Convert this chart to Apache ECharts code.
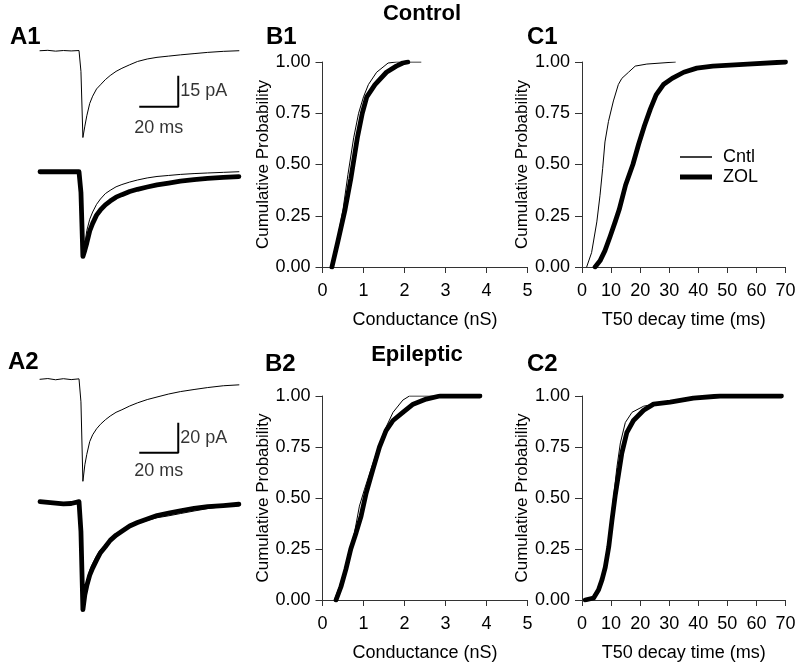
<!DOCTYPE html>
<html><head><meta charset="utf-8">
<script src="https://cdn.jsdelivr.net/npm/echarts@6/dist/echarts.min.js"></script>
<style>html,body{margin:0;padding:0;background:#fff}#c{width:800px;height:668px}</style>
</head><body><div id="c"></div>
<script>
// ---------- DATA ----------
// Example current traces (time in ms, current in pA)
const traceTime = [0, 4, 8, 12, 16, 20, 21, 22, 23, 24, 25.5, 27, 29, 31, 33.5, 36, 39, 42, 46, 50, 55, 60, 66, 72, 79, 86, 94, 102];
const a1TopCntl = [0, 0.2, -0.2, 0.1, -0.1, 0.1, -10, -42, -36.5, -31.5, -25.5, -22, -18.5, -16.5, -14, -12, -10, -8.5, -6.8, -5.2, -4.0, -3.2, -2.6, -2.0, -1.4, -0.8, -0.3, 0];
const a1BotZol  = [0, 0, 0, 0, 0, 0, -10, -41, -38, -34.5, -28.6, -25, -21, -18.5, -16, -14.2, -12.3, -11.1, -9.6, -8.5, -7.4, -6.4, -5.5, -4.6, -3.8, -3.2, -2.7, -2.4];
const a1BotCntl = [0, 0, 0, 0, 0, 0, -10, -41, -35, -28.5, -23, -19.5, -15.8, -13.2, -10.6, -9.0, -7.3, -6.2, -5.0, -4.0, -3.0, -2.3, -1.8, -1.3, -0.9, -0.6, -0.3, 0];
const a2TopCntl = [0, 0.5, -0.3, 0.4, -0.2, 0.3, -15, -68, -57, -50, -41.5, -37, -33, -30, -27, -24.5, -22, -20.3, -17.8, -15.7, -13.5, -11.8, -9.8, -8.2, -6.8, -5.5, -4.3, -3.7];
const a2BotZol  = [0, -0.5, -1, -1.5, -1.2, 0, -20, -72, -62, -56, -49, -44.3, -39, -34, -30, -25.8, -22.3, -19.7, -16.2, -13.9, -11.5, -9.2, -7.6, -6.1, -4.5, -3.3, -2.6, -1.7];
const a2BotCntl = [0, -0.5, -1, -1.5, -1.2, 0, -20, -70, -59.5, -53, -45.5, -41, -36, -32, -28.5, -24.8, -21.8, -19.6, -16.7, -14.5, -12.5, -10.7, -9.4, -7.9, -6.2, -4.6, -3.2, -2.2];
// Scale bars
const a1ScaleMs = 20, a1ScalePa = 15;
const a2ScaleMs = 20, a2ScalePa = 20;

// Cumulative distributions [value, cumulative probability]
const b1Cntl = [[0.23,0],[0.35,0.12],[0.5,0.28],[0.62,0.45],[0.76,0.63],[0.88,0.75],[1.0,0.83],[1.12,0.89],[1.32,0.95],[1.6,0.995],[1.8,1.0],[2.4,1.0]];
const b1Zol  = [[0.23,0],[0.37,0.12],[0.55,0.28],[0.69,0.43],[0.85,0.63],[0.97,0.75],[1.08,0.83],[1.28,0.89],[1.56,0.95],[1.8,0.98],[1.96,0.995],[2.08,1.0]];
const c1Cntl = [[1.6,0],[3.3,0.07],[5.1,0.22],[6.2,0.35],[7.1,0.48],[7.9,0.61],[9.1,0.71],[10.8,0.81],[12.5,0.89],[13.7,0.92],[16.0,0.95],[18.3,0.98],[22.3,0.99],[32.1,1.0]];
const c1Zol  = [[4.5,0],[6.2,0.03],[7.9,0.08],[9.7,0.15],[11.4,0.22],[12.8,0.28],[15.0,0.4],[17.5,0.5],[19.5,0.6],[21.5,0.69],[23.5,0.77],[25.5,0.84],[28,0.89],[31,0.92],[35,0.95],[39.5,0.97],[45,0.98],[57,0.99],[70,1.0]];
const b2Cntl = [[0.29,0],[0.41,0.065],[0.57,0.16],[0.65,0.23],[0.78,0.33],[0.9,0.46],[1.02,0.54],[1.18,0.64],[1.35,0.74],[1.51,0.83],[1.72,0.92],[1.96,0.98],[2.12,1.0],[2.9,1.0]];
const b2Zol  = [[0.33,0],[0.45,0.065],[0.57,0.15],[0.69,0.25],[0.82,0.33],[0.94,0.41],[1.06,0.52],[1.23,0.64],[1.39,0.75],[1.55,0.83],[1.72,0.88],[1.96,0.92],[2.21,0.96],[2.53,0.985],[2.86,1.0],[3.84,1.0]];
const c2Cntl = [[1.7,0],[5.1,0.03],[6.9,0.1],[8.6,0.23],[9.7,0.36],[10.9,0.51],[12.0,0.65],[13.2,0.77],[14.9,0.87],[17.2,0.92],[21.2,0.95],[30.3,0.975],[41.8,0.99],[53.2,1.0],[68,1.0]];
const c2Zol  = [[1.1,0],[4,0.01],[5.7,0.05],[6.9,0.1],[8.0,0.16],[9.2,0.26],[10.3,0.39],[11.4,0.51],[12.6,0.62],[13.7,0.72],[15.4,0.82],[17.7,0.88],[21.2,0.93],[24.6,0.96],[30.3,0.97],[38.3,0.99],[47.5,1.0],[68.6,1.0]];

const yTicks = [0, 0.25, 0.5, 0.75, 1.0];
const conductanceTicks = [0, 1, 2, 3, 4, 5];
const decayTicks = [0, 10, 20, 30, 40, 50, 60, 70];
const legendNames = ['Cntl', 'ZOL'];
const panelLabels = ['A1', 'B1', 'C1', 'A2', 'B2', 'C2'];
const groupTitles = ['Control', 'Epileptic'];
const yName = 'Cumulative Probability';
const xNameB = 'Conductance (nS)';
const xNameC = 'T50 decay time (ms)';

// ---------- CHART ----------
const FONT = 'Liberation Sans, Arial, Helvetica, sans-serif';
const chart = echarts.init(document.getElementById('c'), null, {renderer: 'canvas'});
const zip = (t, v) => t.map((x, i) => [x, v[i]]);

const grids = [
  {left: 40, width: 204.75, top: 40.4, height: 103.3},
  {left: 40, width: 204.75, top: 161.4, height: 103.3},
  {left: 40, width: 204.75, top: 371.8, height: 120},
  {left: 40, width: 204.75, top: 494.2, height: 120},
  {left: 322.5, width: 205, top: 62, height: 205},
  {left: 582, width: 203.5, top: 62, height: 205},
  {left: 322.5, width: 205, top: 396, height: 204},
  {left: 582, width: 203.5, top: 396, height: 204}
].map(g => Object.assign({outerBoundsMode: 'none', containLabel: false}, g));

const xAxes = [], yAxes = [];
const traceRanges = [[-45, 5], [-45, 5], [-75, 5], [-75, 5]];
traceRanges.forEach((r, i) => {
  xAxes.push({gridIndex: i, type: 'value', min: 0, max: 105, show: false});
  yAxes.push({gridIndex: i, type: 'value', min: r[0], max: r[1], show: false});
});
const axisColor = '#333';
function cumX(gi, ticks, name) {
  return {gridIndex: gi, type: 'value', min: ticks[0], max: ticks[ticks.length - 1],
    interval: ticks[1] - ticks[0], name: name, nameLocation: 'middle', nameGap: 44,
    nameTextStyle: {fontSize: 18, color: '#000', fontFamily: FONT},
    axisLine: {show: true, onZero: false, lineStyle: {color: axisColor, width: 1}},
    axisTick: {show: true, length: 6, lineStyle: {color: axisColor, width: 1}},
    axisLabel: {fontSize: 18, color: '#000', margin: 15, fontFamily: FONT, showMinLabel: true, showMaxLabel: true},
    splitLine: {show: false}};
}
function cumY(gi) {
  return {gridIndex: gi, type: 'value', min: yTicks[0], max: yTicks[yTicks.length - 1],
    interval: yTicks[1] - yTicks[0], name: yName, nameLocation: 'middle', nameGap: 51,
    nameTextStyle: {fontSize: 17, color: '#000', fontFamily: FONT},
    axisLine: {show: true, onZero: false, lineStyle: {color: axisColor, width: 1}},
    axisTick: {show: true, length: 7, lineStyle: {color: axisColor, width: 1}},
    axisLabel: {fontSize: 18, color: '#000', margin: 12, fontFamily: FONT, formatter: v => v.toFixed(2)},
    splitLine: {show: false}};
}
xAxes.push(cumX(4, conductanceTicks, xNameB)); yAxes.push(cumY(4));
xAxes.push(cumX(5, decayTicks, xNameC)); yAxes.push(cumY(5));
xAxes.push(cumX(6, conductanceTicks, xNameB)); yAxes.push(cumY(6));
xAxes.push(cumX(7, decayTicks, xNameC)); yAxes.push(cumY(7));

const THIN = 1, THICK = 4.8;
function lineSeries(name, idx, data, width) {
  return {name: name, type: 'line', xAxisIndex: idx, yAxisIndex: idx, data: data,
    showSymbol: false, symbol: 'none', silent: true, animation: false,
    lineStyle: {color: '#000', width: width, cap: 'round', join: 'round'}, itemStyle: {color: '#000'}};
}
function scaleBar(idx, cornerT, cornerY, ms, pa, pLabel, dist) {
  return [
    {type: 'line', xAxisIndex: idx, yAxisIndex: idx, silent: true, animation: false, symbol: 'none',
      data: [[cornerT - ms, cornerY], [cornerT, cornerY], [cornerT, cornerY + pa]],
      lineStyle: {color: '#000', width: 2}},
    {type: 'scatter', xAxisIndex: idx, yAxisIndex: idx, silent: true, animation: false, symbolSize: 0,
      data: [
        {value: [cornerT, cornerY + pa / 2], label: {show: true, position: 'right', distance: 2, formatter: pa + ' ' + pLabel}},
        {value: [cornerT - ms / 2, cornerY], label: {show: true, position: 'bottom', distance: dist, formatter: ms + ' ms'}}
      ],
      label: {fontSize: 18, color: '#000', fontFamily: FONT}}
  ];
}

const series = [
  lineSeries('trace', 0, zip(traceTime, a1TopCntl), THIN),
  lineSeries('trace', 1, zip(traceTime, a1BotZol), THICK),
  lineSeries('trace', 1, zip(traceTime, a1BotCntl), THIN),
  lineSeries('trace', 2, zip(traceTime, a2TopCntl), THIN),
  lineSeries('trace', 3, zip(traceTime, a2BotZol), THICK),
  lineSeries('trace', 3, zip(traceTime, a2BotCntl), THIN),
  ...scaleBar(0, 70.9, -27.1, a1ScaleMs, a1ScalePa, 'pA', 12),
  ...scaleBar(2, 70.9, -48.9, a2ScaleMs, a2ScalePa, 'pA', 9),
  lineSeries(legendNames[1], 4, b1Zol, THICK),
  lineSeries(legendNames[0], 4, b1Cntl, THIN),
  lineSeries(legendNames[1], 5, c1Zol, THICK),
  lineSeries(legendNames[0], 5, c1Cntl, THIN),
  lineSeries(legendNames[1], 6, b2Zol, THICK),
  lineSeries(legendNames[0], 6, b2Cntl, THIN),
  lineSeries(legendNames[1], 7, c2Zol, THICK),
  lineSeries(legendNames[0], 7, c2Cntl, THIN)
];

const labelPos = [[10, 25], [266, 25], [527, 25], [8, 350], [265, 352], [527, 352]];
const titles = panelLabels.map((t, i) => ({text: t, left: labelPos[i][0], top: labelPos[i][1], padding: 0,
  textStyle: {fontSize: 24, fontWeight: 'bold', color: '#000', fontFamily: FONT}}));
titles.push({text: groupTitles[0], left: 422, top: 3, textAlign: 'center', padding: 0,
  textStyle: {fontSize: 22, fontWeight: 'bold', color: '#000', fontFamily: FONT}});
titles.push({text: groupTitles[1], left: 417, top: 344, textAlign: 'center', padding: 0,
  textStyle: {fontSize: 22, fontWeight: 'bold', color: '#000', fontFamily: FONT}});

const legendBase = {left: 680, icon: 'rect', itemWidth: 32, padding: 0, selectedMode: false,
  itemStyle: {borderWidth: 0}, textStyle: {fontSize: 18, color: '#000', fontFamily: FONT, padding: [0, 0, 0, 6]}};
const legends = [
  Object.assign({}, legendBase, {data: [legendNames[0]], top: 148, itemHeight: 1.5}),
  Object.assign({}, legendBase, {data: [legendNames[1]], top: 168, itemHeight: 5})
];

chart.setOption({
  animation: false,
  backgroundColor: '#fff',
  color: ['#000'],
  textStyle: {fontFamily: FONT},
  title: titles,
  legend: legends,
  grid: grids,
  xAxis: xAxes,
  yAxis: yAxes,
  series: series
});
</script></body></html>
